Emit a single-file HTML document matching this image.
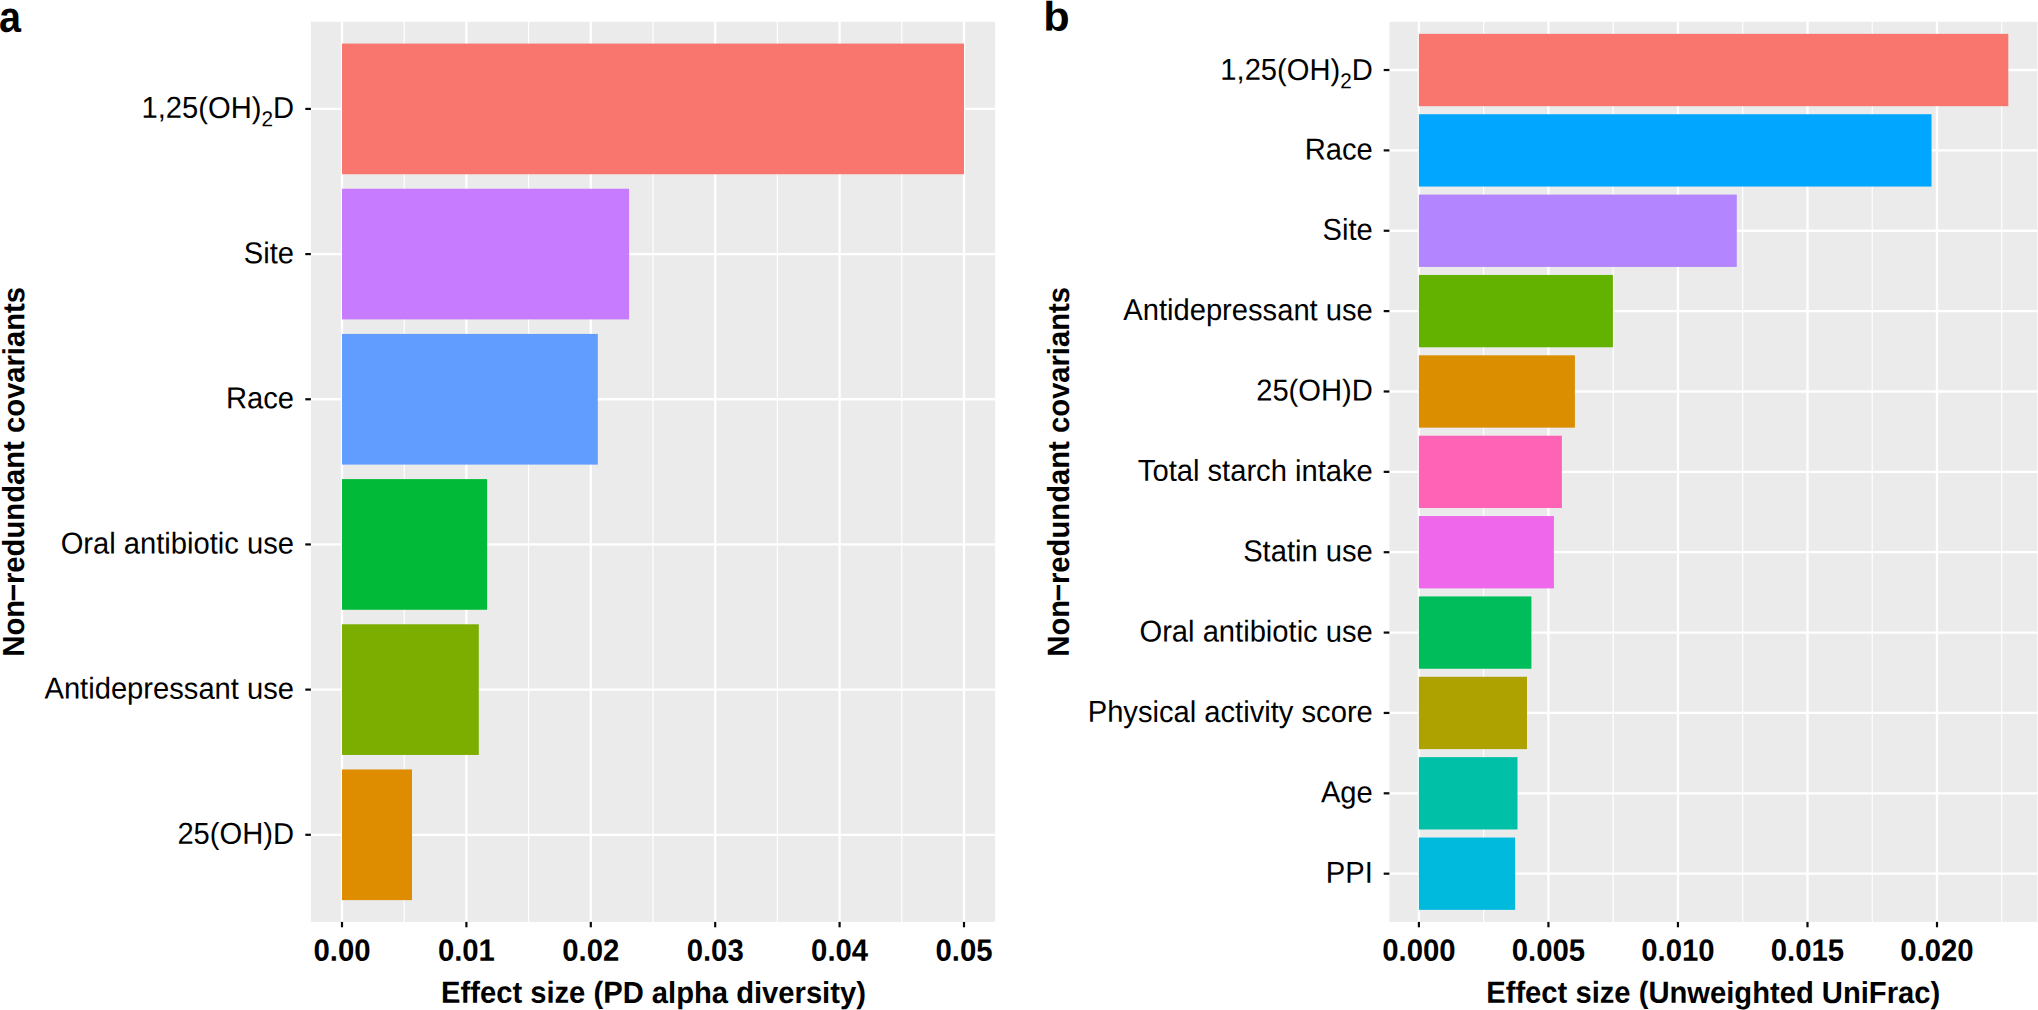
<!DOCTYPE html>
<html><head><meta charset="utf-8"><title>Figure</title>
<style>
html,body{margin:0;padding:0;background:#fff;}
svg{display:block;font-family:"Liberation Sans",sans-serif;text-rendering:geometricPrecision;}
text{fill:#000;}
.yl{font-size:29.3px;text-anchor:end;}
.sub{font-size:20.8px;}
.xl{font-size:29.3px;font-weight:bold;text-anchor:middle;}
.xt{font-size:29.3px;font-weight:bold;text-anchor:middle;}
.yt{font-size:29.3px;font-weight:bold;text-anchor:middle;}
.pl{font-size:41px;font-weight:bold;}
</style></head><body>
<svg width="2038" height="1010" viewBox="0 0 2038 1010">
<rect x="310.9" y="21.8" width="684.20" height="900.10" fill="#ebebeb"/>
<line x1="404.20" x2="404.20" y1="21.8" y2="921.9" stroke="#fff" stroke-width="1.15"/>
<line x1="528.60" x2="528.60" y1="21.8" y2="921.9" stroke="#fff" stroke-width="1.15"/>
<line x1="653.00" x2="653.00" y1="21.8" y2="921.9" stroke="#fff" stroke-width="1.15"/>
<line x1="777.40" x2="777.40" y1="21.8" y2="921.9" stroke="#fff" stroke-width="1.15"/>
<line x1="901.80" x2="901.80" y1="21.8" y2="921.9" stroke="#fff" stroke-width="1.15"/>
<line x1="342.00" x2="342.00" y1="21.8" y2="921.9" stroke="#fff" stroke-width="2.3"/>
<line x1="466.40" x2="466.40" y1="21.8" y2="921.9" stroke="#fff" stroke-width="2.3"/>
<line x1="590.80" x2="590.80" y1="21.8" y2="921.9" stroke="#fff" stroke-width="2.3"/>
<line x1="715.20" x2="715.20" y1="21.8" y2="921.9" stroke="#fff" stroke-width="2.3"/>
<line x1="839.60" x2="839.60" y1="21.8" y2="921.9" stroke="#fff" stroke-width="2.3"/>
<line x1="964.00" x2="964.00" y1="21.8" y2="921.9" stroke="#fff" stroke-width="2.3"/>
<line x1="310.9" x2="995.1" y1="108.91" y2="108.91" stroke="#fff" stroke-width="2.3"/>
<line x1="310.9" x2="995.1" y1="254.08" y2="254.08" stroke="#fff" stroke-width="2.3"/>
<line x1="310.9" x2="995.1" y1="399.26" y2="399.26" stroke="#fff" stroke-width="2.3"/>
<line x1="310.9" x2="995.1" y1="544.44" y2="544.44" stroke="#fff" stroke-width="2.3"/>
<line x1="310.9" x2="995.1" y1="689.62" y2="689.62" stroke="#fff" stroke-width="2.3"/>
<line x1="310.9" x2="995.1" y1="834.79" y2="834.79" stroke="#fff" stroke-width="2.3"/>
<rect x="342.00" y="43.58" width="622.00" height="130.66" fill="#F8766D"/>
<line x1="305.3" x2="310.9" y1="108.91" y2="108.91" stroke="#0a0a0a" stroke-width="2.2"/>
<text class="yl" transform="translate(294.00,117.95) rotate(0.04) scale(0.995,1.03)">1,25(OH)<tspan class="sub" dy="8.0">2</tspan><tspan dy="-8.0">D</tspan></text>
<rect x="342.00" y="188.75" width="287.10" height="130.66" fill="#C77CFF"/>
<line x1="305.3" x2="310.9" y1="254.08" y2="254.08" stroke="#0a0a0a" stroke-width="2.2"/>
<text class="yl" transform="translate(294.00,263.18) rotate(0.04) scale(0.995,1.03)">Site</text>
<rect x="342.00" y="333.93" width="255.80" height="130.66" fill="#619CFF"/>
<line x1="305.3" x2="310.9" y1="399.26" y2="399.26" stroke="#0a0a0a" stroke-width="2.2"/>
<text class="yl" transform="translate(294.00,408.36) rotate(0.04) scale(0.995,1.03)">Race</text>
<rect x="342.00" y="479.11" width="145.10" height="130.66" fill="#00BA38"/>
<line x1="305.3" x2="310.9" y1="544.44" y2="544.44" stroke="#0a0a0a" stroke-width="2.2"/>
<text class="yl" transform="translate(294.00,553.54) rotate(0.04) scale(0.995,1.03)">Oral antibiotic use</text>
<rect x="342.00" y="624.29" width="136.80" height="130.66" fill="#7CAE00"/>
<line x1="305.3" x2="310.9" y1="689.62" y2="689.62" stroke="#0a0a0a" stroke-width="2.2"/>
<text class="yl" transform="translate(294.00,698.72) rotate(0.04) scale(0.995,1.03)">Antidepressant use</text>
<rect x="342.00" y="769.46" width="70.00" height="130.66" fill="#DE8C00"/>
<line x1="305.3" x2="310.9" y1="834.79" y2="834.79" stroke="#0a0a0a" stroke-width="2.2"/>
<text class="yl" transform="translate(294.00,843.89) rotate(0.04) scale(0.995,1.03)">25(OH)D</text>
<line x1="342.00" x2="342.00" y1="921.9" y2="927.3" stroke="#0a0a0a" stroke-width="2.2"/>
<text class="xl" transform="translate(342.00,960.65) rotate(0.04) scale(1,1.05)">0.00</text>
<line x1="466.40" x2="466.40" y1="921.9" y2="927.3" stroke="#0a0a0a" stroke-width="2.2"/>
<text class="xl" transform="translate(466.40,960.65) rotate(0.04) scale(1,1.05)">0.01</text>
<line x1="590.80" x2="590.80" y1="921.9" y2="927.3" stroke="#0a0a0a" stroke-width="2.2"/>
<text class="xl" transform="translate(590.80,960.65) rotate(0.04) scale(1,1.05)">0.02</text>
<line x1="715.20" x2="715.20" y1="921.9" y2="927.3" stroke="#0a0a0a" stroke-width="2.2"/>
<text class="xl" transform="translate(715.20,960.65) rotate(0.04) scale(1,1.05)">0.03</text>
<line x1="839.60" x2="839.60" y1="921.9" y2="927.3" stroke="#0a0a0a" stroke-width="2.2"/>
<text class="xl" transform="translate(839.60,960.65) rotate(0.04) scale(1,1.05)">0.04</text>
<line x1="964.00" x2="964.00" y1="921.9" y2="927.3" stroke="#0a0a0a" stroke-width="2.2"/>
<text class="xl" transform="translate(964.00,960.65) rotate(0.04) scale(1,1.05)">0.05</text>
<text class="xt" transform="translate(653.45,1002.90) rotate(0.04) scale(0.996,1.04)">Effect size (PD alpha diversity)</text>
<text class="yt" transform="translate(24.10,471.85) rotate(-89.96) scale(0.997,1.04)">Non<tspan dx="-1.6" style="font-size:30.6px">−</tspan><tspan dx="-0.3">redundant covariants</tspan></text>
<rect x="1389.4" y="21.8" width="648.00" height="900.10" fill="#ebebeb"/>
<line x1="1483.66" x2="1483.66" y1="21.8" y2="921.9" stroke="#fff" stroke-width="1.15"/>
<line x1="1613.19" x2="1613.19" y1="21.8" y2="921.9" stroke="#fff" stroke-width="1.15"/>
<line x1="1742.71" x2="1742.71" y1="21.8" y2="921.9" stroke="#fff" stroke-width="1.15"/>
<line x1="1872.24" x2="1872.24" y1="21.8" y2="921.9" stroke="#fff" stroke-width="1.15"/>
<line x1="2001.76" x2="2001.76" y1="21.8" y2="921.9" stroke="#fff" stroke-width="1.15"/>
<line x1="1418.90" x2="1418.90" y1="21.8" y2="921.9" stroke="#fff" stroke-width="2.3"/>
<line x1="1548.43" x2="1548.43" y1="21.8" y2="921.9" stroke="#fff" stroke-width="2.3"/>
<line x1="1677.95" x2="1677.95" y1="21.8" y2="921.9" stroke="#fff" stroke-width="2.3"/>
<line x1="1807.48" x2="1807.48" y1="21.8" y2="921.9" stroke="#fff" stroke-width="2.3"/>
<line x1="1937.00" x2="1937.00" y1="21.8" y2="921.9" stroke="#fff" stroke-width="2.3"/>
<line x1="1389.4" x2="2037.4" y1="70.02" y2="70.02" stroke="#fff" stroke-width="2.3"/>
<line x1="1389.4" x2="2037.4" y1="150.39" y2="150.39" stroke="#fff" stroke-width="2.3"/>
<line x1="1389.4" x2="2037.4" y1="230.75" y2="230.75" stroke="#fff" stroke-width="2.3"/>
<line x1="1389.4" x2="2037.4" y1="311.12" y2="311.12" stroke="#fff" stroke-width="2.3"/>
<line x1="1389.4" x2="2037.4" y1="391.48" y2="391.48" stroke="#fff" stroke-width="2.3"/>
<line x1="1389.4" x2="2037.4" y1="471.85" y2="471.85" stroke="#fff" stroke-width="2.3"/>
<line x1="1389.4" x2="2037.4" y1="552.22" y2="552.22" stroke="#fff" stroke-width="2.3"/>
<line x1="1389.4" x2="2037.4" y1="632.58" y2="632.58" stroke="#fff" stroke-width="2.3"/>
<line x1="1389.4" x2="2037.4" y1="712.95" y2="712.95" stroke="#fff" stroke-width="2.3"/>
<line x1="1389.4" x2="2037.4" y1="793.31" y2="793.31" stroke="#fff" stroke-width="2.3"/>
<line x1="1389.4" x2="2037.4" y1="873.68" y2="873.68" stroke="#fff" stroke-width="2.3"/>
<rect x="1418.90" y="33.85" width="589.40" height="72.33" fill="#F8766D"/>
<line x1="1383.7" x2="1389.4" y1="70.02" y2="70.02" stroke="#0a0a0a" stroke-width="2.2"/>
<text class="yl" transform="translate(1372.80,79.95) rotate(0.04) scale(0.995,1.03)">1,25(OH)<tspan class="sub" dy="8.0">2</tspan><tspan dy="-8.0">D</tspan></text>
<rect x="1418.90" y="114.22" width="512.60" height="72.33" fill="#00A6FF"/>
<line x1="1383.7" x2="1389.4" y1="150.39" y2="150.39" stroke="#0a0a0a" stroke-width="2.2"/>
<text class="yl" transform="translate(1372.80,159.49) rotate(0.04) scale(0.995,1.03)">Race</text>
<rect x="1418.90" y="194.59" width="317.90" height="72.33" fill="#B385FF"/>
<line x1="1383.7" x2="1389.4" y1="230.75" y2="230.75" stroke="#0a0a0a" stroke-width="2.2"/>
<text class="yl" transform="translate(1372.80,239.85) rotate(0.04) scale(0.995,1.03)">Site</text>
<rect x="1418.90" y="274.95" width="194.00" height="72.33" fill="#64B200"/>
<line x1="1383.7" x2="1389.4" y1="311.12" y2="311.12" stroke="#0a0a0a" stroke-width="2.2"/>
<text class="yl" transform="translate(1372.80,320.22) rotate(0.04) scale(0.995,1.03)">Antidepressant use</text>
<rect x="1418.90" y="355.32" width="156.00" height="72.33" fill="#DB8E00"/>
<line x1="1383.7" x2="1389.4" y1="391.48" y2="391.48" stroke="#0a0a0a" stroke-width="2.2"/>
<text class="yl" transform="translate(1372.80,400.58) rotate(0.04) scale(0.995,1.03)">25(OH)D</text>
<rect x="1418.90" y="435.69" width="143.00" height="72.33" fill="#FF63B6"/>
<line x1="1383.7" x2="1389.4" y1="471.85" y2="471.85" stroke="#0a0a0a" stroke-width="2.2"/>
<text class="yl" transform="translate(1372.80,480.95) rotate(0.04) scale(0.995,1.03)">Total starch intake</text>
<rect x="1418.90" y="516.05" width="135.00" height="72.33" fill="#EF67EB"/>
<line x1="1383.7" x2="1389.4" y1="552.22" y2="552.22" stroke="#0a0a0a" stroke-width="2.2"/>
<text class="yl" transform="translate(1372.80,561.32) rotate(0.04) scale(0.995,1.03)">Statin use</text>
<rect x="1418.90" y="596.42" width="112.50" height="72.33" fill="#00BD5C"/>
<line x1="1383.7" x2="1389.4" y1="632.58" y2="632.58" stroke="#0a0a0a" stroke-width="2.2"/>
<text class="yl" transform="translate(1372.80,641.68) rotate(0.04) scale(0.995,1.03)">Oral antibiotic use</text>
<rect x="1418.90" y="676.78" width="108.10" height="72.33" fill="#AEA200"/>
<line x1="1383.7" x2="1389.4" y1="712.95" y2="712.95" stroke="#0a0a0a" stroke-width="2.2"/>
<text class="yl" transform="translate(1372.80,722.05) rotate(0.04) scale(0.995,1.03)">Physical activity score</text>
<rect x="1418.90" y="757.15" width="98.60" height="72.33" fill="#00C1A7"/>
<line x1="1383.7" x2="1389.4" y1="793.31" y2="793.31" stroke="#0a0a0a" stroke-width="2.2"/>
<text class="yl" transform="translate(1372.80,802.41) rotate(0.04) scale(0.995,1.03)">Age</text>
<rect x="1418.90" y="837.52" width="96.20" height="72.33" fill="#00BADE"/>
<line x1="1383.7" x2="1389.4" y1="873.68" y2="873.68" stroke="#0a0a0a" stroke-width="2.2"/>
<text class="yl" transform="translate(1372.80,882.78) rotate(0.04) scale(0.995,1.03)">PPI</text>
<line x1="1418.90" x2="1418.90" y1="921.9" y2="927.3" stroke="#0a0a0a" stroke-width="2.2"/>
<text class="xl" transform="translate(1418.90,960.65) rotate(0.04) scale(1,1.05)">0.000</text>
<line x1="1548.43" x2="1548.43" y1="921.9" y2="927.3" stroke="#0a0a0a" stroke-width="2.2"/>
<text class="xl" transform="translate(1548.43,960.65) rotate(0.04) scale(1,1.05)">0.005</text>
<line x1="1677.95" x2="1677.95" y1="921.9" y2="927.3" stroke="#0a0a0a" stroke-width="2.2"/>
<text class="xl" transform="translate(1677.95,960.65) rotate(0.04) scale(1,1.05)">0.010</text>
<line x1="1807.48" x2="1807.48" y1="921.9" y2="927.3" stroke="#0a0a0a" stroke-width="2.2"/>
<text class="xl" transform="translate(1807.48,960.65) rotate(0.04) scale(1,1.05)">0.015</text>
<line x1="1937.00" x2="1937.00" y1="921.9" y2="927.3" stroke="#0a0a0a" stroke-width="2.2"/>
<text class="xl" transform="translate(1937.00,960.65) rotate(0.04) scale(1,1.05)">0.020</text>
<text class="xt" transform="translate(1713.20,1002.90) rotate(0.04) scale(0.996,1.04)">Effect size (Unweighted UniFrac)</text>
<text class="yt" transform="translate(1069.00,471.85) rotate(-89.96) scale(0.997,1.04)">Non<tspan dx="-1.6" style="font-size:30.6px">−</tspan><tspan dx="-0.3">redundant covariants</tspan></text>
<text class="pl" transform="translate(-1.10,31.70) rotate(0.04) scale(0.965,1.05)">a</text>
<text class="pl" transform="translate(1043.15,30.50) rotate(0.04) scale(1.055,1.0)">b</text>
</svg>
</body></html>
